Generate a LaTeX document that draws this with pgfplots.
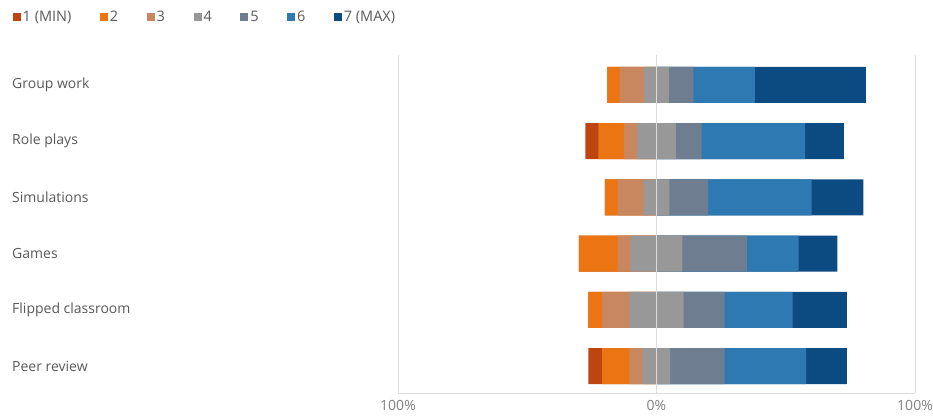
\documentclass[border=0pt]{standalone}
\usepackage{pgfplots}
\pgfplotsset{compat=1.18}
\usepackage{pgfplotstable}
\usepackage{fontspec}
\setmainfont{Open Sans}
\definecolor{c1}{HTML}{BF4510}
\definecolor{c2}{HTML}{EB7513}
\definecolor{c3}{HTML}{C8875E}
\definecolor{c4}{HTML}{989898}
\definecolor{c5}{HTML}{6E7E90}
\definecolor{c6}{HTML}{2E79B2}
\definecolor{c7}{HTML}{0C4A82}
\definecolor{txt}{HTML}{595959}
\definecolor{ticktxt}{HTML}{7F7F7F}
\definecolor{gridc}{HTML}{DCDCDC}
% segment end points (percent): left ends of 1..4, right ends of 4..7
\pgfplotstableread{
y   Lone    Ltwo    Lthree  Lfour   Rfour  Rfive  Rsix   Rseven
0  -19.048 -19.048 -14.286 -4.762  4.762  14.286 38.096 80.953
1  -27.5   -22.5   -12.5   -7.5    7.5    17.5   57.5   72.5
2  -20     -20     -15     -5      5      20     60     80
3  -30     -30     -15     -10     10     35     55     70
4  -26.316 -26.316 -21.053 -10.526 10.526 26.316 52.632 73.684
5  -26.316 -21.053 -10.526 -5.263  5.263  26.316 57.895 73.684
}\data
\begin{document}
\begin{tikzpicture}
\useasboundingbox (0,0) rectangle (933pt,416pt);
\begin{axis}[
  at={(398pt,23pt)}, anchor=south west,
  scale only axis, width=517pt, height=338pt,
  xbar, bar width=36pt, bar shift=0pt,
  xmin=-100, xmax=100, ymin=-0.53, ymax=5.48, y dir=reverse,
  xtick={-100,0,100}, xticklabels={100\%,0\%,100\%},
  ytick={0,...,5},
  yticklabels={Group work,Role plays,Simulations,Games,Flipped classroom,Peer review},
  major tick length=0pt,
  axis line style={draw=none},
  xmajorgrids, grid style={color=gridc, line width=0.8pt},
  axis on top,
  tick label style={font=\fontsize{14}{16}\selectfont},
  xticklabel style={text=ticktxt, yshift=-4pt},
  yticklabel style={text=txt, anchor=west, inner sep=0pt, xshift=-386pt},
  legend style={at={(axis description cs:-0.7456,1.112)}, anchor=west,
    draw=none, fill=none, inner sep=0pt,
    font=\fontsize{14.5}{16}\selectfont, text=txt,
    /tikz/every even column/.append style={column sep=26.5pt}},
  legend columns=-1,
  legend image code/.code={\fill[#1] (0pt,-4pt) rectangle (8pt,4.5pt);},
  after end axis/.code={\draw[gridc, line width=0.8pt] (axis cs:-100,5.48) -- (axis cs:100,5.48);},
]
\addlegendimage{fill=c1, draw=none}
\addlegendimage{fill=c2, draw=none}
\addlegendimage{fill=c3, draw=none}
\addlegendimage{fill=c4, draw=none}
\addlegendimage{fill=c5, draw=none}
\addlegendimage{fill=c6, draw=none}
\addlegendimage{fill=c7, draw=none}
\addplot[draw=none, fill=c1, forget plot] table[x=Lone, y=y] {\data};
\addplot[draw=none, fill=c2, forget plot] table[x=Ltwo, y=y] {\data};
\addplot[draw=none, fill=c3, forget plot] table[x=Lthree, y=y] {\data};
\addplot[draw=none, fill=c4, forget plot] table[x=Lfour, y=y] {\data};
\addplot[draw=none, fill=c7, forget plot] table[x=Rseven, y=y] {\data};
\addplot[draw=none, fill=c6, forget plot] table[x=Rsix, y=y] {\data};
\addplot[draw=none, fill=c5, forget plot] table[x=Rfive, y=y] {\data};
\addplot[draw=none, fill=c4, forget plot] table[x=Rfour, y=y] {\data};
\legend{1 (MIN),2,3,4,5,6,7 (MAX)}
\end{axis}
\end{tikzpicture}
\end{document}
